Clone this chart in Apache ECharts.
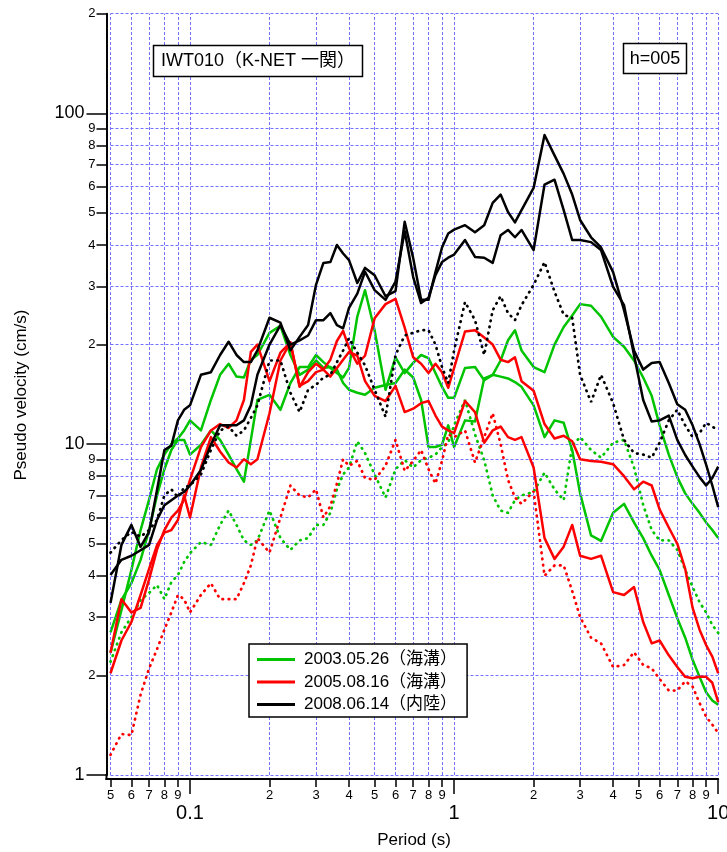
<!DOCTYPE html>
<html><head><meta charset="utf-8">
<script src="https://cdn.jsdelivr.net/npm/echarts@6/dist/echarts.min.js"></script>
<style>html,body{margin:0;padding:0;background:#fff}#c{width:727px;height:852px}</style>
</head><body><div id="c"></div><script>
const periods = [0.05,0.055,0.06,0.065,0.07,0.075,0.08,0.085,0.09,0.095,0.1,0.11,0.12,0.13,0.14,0.15,0.16,0.17,0.18,0.2,0.22,0.24,0.26,0.28,0.3,0.32,0.34,0.36,0.38,0.4,0.43,0.46,0.5,0.55,0.6,0.65,0.7,0.75,0.8,0.85,0.9,0.95,1.0,1.1,1.2,1.3,1.4,1.5,1.6,1.7,1.8,2.0,2.2,2.4,2.6,2.8,3.0,3.3,3.6,4.0,4.4,4.8,5.2,5.6,6.0,6.5,7.0,7.5,8.0,8.5,9.0,9.5,10];

const green1 = [2.7,3.38,3.8,4.47,5.5,7.0,8.4,9.6,10.3,10.3,9.3,9.96,11.0,10.3,9.3,8.4,7.7,10.3,13.6,14.1,12.7,15.3,17.1,17.1,18.6,17.7,17.0,16.4,15.9,17.0,24.3,29.2,22.1,14.6,18.3,16.4,17.6,18.6,18.2,16.4,14.9,13.8,13.8,17.0,17.1,15.6,16.2,17.9,20.6,22.1,19.2,17.1,16.5,20,22.6,24.5,26.5,26.2,24.3,21.1,19.7,17.9,15.9,14.0,11.4,9.3,7.95,7.1,6.6,6.2,5.8,5.5,5.2];
const green2 = [2.34,3.15,4.17,5.5,6.8,8.4,9.3,10.0,10.4,11.0,11.8,11.0,13.6,16.2,17.5,16.0,15.9,18.0,18.6,21.7,22.8,18.6,16.2,16.8,17.9,17.0,17.1,16.8,15.3,14.6,14.3,14.1,14.8,15.1,15.3,16.8,15.9,13.6,9.8,9.8,9.96,11.4,9.8,11.8,11.7,15.8,16.2,16.0,15.8,15.4,14.9,13.1,10.5,11.8,11.6,9.6,7.1,5.3,5.1,6.2,6.6,5.8,5.2,4.6,4.17,3.5,2.98,2.6,2.23,1.98,1.78,1.68,1.63];
const greenDot = [2.2,2.7,3.0,3.38,3.55,3.75,3.4,3.83,4.02,4.4,4.68,5.06,4.96,5.7,6.3,5.7,5.12,4.96,5.12,6.3,5.2,4.79,5.12,5.2,5.7,5.7,6.2,7.3,8.1,8.5,10.2,9.4,8.1,6.9,8.4,8.95,8.5,8.95,9.1,9.3,9.8,10.1,11.4,13.6,10.7,8.95,7.0,6.3,6.2,6.77,7.0,7.17,8.2,7.3,6.77,9.9,10.5,9.6,9.1,10.1,10.3,8.5,6.55,5.5,5.12,5.12,4.79,4.17,3.7,3.33,3.1,2.84,2.69];
const red1 = [2.34,3.4,3.1,3.2,3.9,4.8,5.5,6.0,6.3,6.8,7.8,9.8,11.0,11.5,11.2,11.8,13.6,19.0,20.0,15.5,18.9,20.3,14.9,16.5,17.5,16.8,18,20.5,22,19.5,17.5,18.5,24,26.5,27.5,22.5,18.3,17.5,16.4,17.5,16.5,14.8,17,21.9,22.1,21,20,18,17.7,18.3,15.5,14.5,11.5,10.4,10.6,10.2,9.0,8.9,8.85,8.7,8.0,7.3,7.7,7.5,6.35,5.6,5.0,4.2,3.2,2.75,2.47,2.28,2.03];
const red2 = [2.03,2.55,2.9,3.5,4.2,4.95,5.4,5.5,5.9,7.0,6.0,8.5,10.5,9.5,8.8,8.5,9.0,8.7,9.0,12.4,17.9,20.3,15.0,15.5,16.5,16.8,16,17,18,19,18.5,15.5,14.0,13.5,15,12.5,12.8,13.3,13.5,12.2,11.3,11.0,10.8,13.5,12.5,10.1,11.0,11.3,10.5,10.3,10.5,8.5,5.2,4.5,4.9,5.7,4.6,4.5,4.6,3.57,3.5,3.7,2.9,2.5,2.55,2.3,2.12,1.98,1.96,1.98,1.98,1.9,1.66];
const redDot = [1.15,1.33,1.32,1.75,2.1,2.4,2.75,3.1,3.5,3.4,3.1,3.5,3.8,3.4,3.4,3.4,3.8,4.3,5.2,4.7,6.0,7.5,7.0,6.9,7.3,6.0,6.5,7.6,9.0,8.6,8.9,7.9,7.8,8.6,10.3,8.3,8.9,9.6,8.4,7.6,8.9,10.7,10.5,11.0,8.8,10.5,12.4,10.0,7.8,6.9,6.6,7.2,4.0,4.3,4.3,3.6,3.0,2.6,2.5,2.12,2.15,2.35,2.15,2.1,1.95,1.8,1.8,1.92,1.85,1.65,1.5,1.42,1.34];
const black1 = [3.31,4.96,5.70,4.89,5.43,7.27,9.6,9.9,11.8,12.7,13.1,16.2,16.5,18.6,20.4,18.6,17.7,17.7,19.2,24.1,23.3,19.2,21.1,22.9,30.3,35.3,35.5,40.0,37.7,36,30.7,34.1,32.4,28,29,47,36.5,27.3,27.3,33.1,39.3,43.3,44.5,45.9,43.7,45.9,53.6,56.8,50.3,46.8,51.0,59.5,86,74.6,65.6,56.8,47.6,42.2,39.3,33.1,25.4,19.2,16.8,17.6,17.7,15.3,13.2,12.7,11.4,10.0,8.67,7.5,6.45];
const black2 = [4.02,4.47,4.6,4.78,4.96,5.9,6.54,6.77,7.0,7.17,7.5,8.35,9.96,11.4,11.4,11.4,11.8,13.1,16.2,20,22.9,20,20.6,21.3,23.7,23.7,24.9,22.9,22.4,25.8,28.5,33.2,29.2,27.3,31,44,32,26.7,27.7,32.4,35.5,36.6,37.4,41.4,36.8,36.6,35.3,42.8,44.4,42.2,44.4,38.6,60.9,63,51,41.4,41.4,40.8,38.6,29.9,26.3,18.6,13.6,11.7,11.8,12.2,10.3,9.27,8.55,7.95,7.5,7.9,8.55];
const blackDot = [4.7,5.13,5.43,5.25,5.5,5.9,7.0,7.3,6.9,7.4,7.5,8.1,9.6,11.0,11.3,10.6,11.0,12.0,13.1,17.9,17.9,14.3,12.5,14.6,15.1,15.9,16.2,17.7,19.2,20.9,18.9,17.3,14.6,12.1,18.6,21.3,21.7,22.1,22.1,20,17.1,15.3,19.2,26.9,23.7,18.6,25.4,28,24.9,23.7,26.3,30.3,35.5,28.9,24.6,24.1,16.2,13.4,16.2,13.3,10.3,9.4,9.3,9.1,10.1,11.8,12.7,11.4,10.5,10.8,11.6,11.3,11.0];

const legendNames = ['2003.05.26（海溝）','2005.08.16（海溝）','2008.06.14（内陸）'];
const stationTitle = 'IWT010（K-NET 一関）';
const dampingLabel = 'h=005';
const xTitle = 'Period (s)';
const yTitle = 'Pseudo velocity (cm/s)';

const xMinorVals = [0.05,0.06,0.07,0.08,0.09,0.2,0.3,0.4,0.5,0.6,0.7,0.8,0.9,2,3,4,5,6,7,8,9];
const xMinorLabels = ['5','6','7','8','9','2','3','4','5','6','7','8','9','2','3','4','5','6','7','8','9'];
const xMajorVals = [0.1,1,10];
const xMajorLabels = ['0.1','1','10'];
const yMinorVals = [2,3,4,5,6,7,8,9,20,30,40,50,60,70,80,90,200];
const yMinorLabels = ['2','3','4','5','6','7','8','9','2','3','4','5','6','7','8','9','2'];
const yMajorVals = [1,10,100];
const yMajorLabels = ['1','10','100'];

const FONT = '"Liberation Sans", Arial, "Noto Sans CJK JP", sans-serif';
const GREEN = '#00c400', RED = '#ff0000', BLACK = '#000000';
const L = Math.log10;

function lookup(v, vals, labels) {
  for (let i = 0; i < vals.length; i++) if (Math.abs(L(vals[i]) - v) < 1e-6) return labels[i];
  return '';
}
function pts(vals) { return periods.map((p, i) => [p, vals[i]]); }

const seriesDefs = [
  { name: legendNames[0], vals: green1, color: GREEN, dot: false },
  { name: legendNames[0], vals: green2, color: GREEN, dot: false },
  { name: legendNames[0], vals: greenDot, color: GREEN, dot: true },
  { name: legendNames[1], vals: red1, color: RED, dot: false },
  { name: legendNames[1], vals: red2, color: RED, dot: false },
  { name: legendNames[1], vals: redDot, color: RED, dot: true },
  { name: legendNames[2], vals: black1, color: BLACK, dot: false },
  { name: legendNames[2], vals: black2, color: BLACK, dot: false },
  { name: legendNames[2], vals: blackDot, color: BLACK, dot: true }
];

const gridLineStyle = { color: '#7272ff', type: [3, 2], width: 1 };
const gridSeries = {
  type: 'line', data: [], xAxisIndex: 0, yAxisIndex: 0, z: 1, silent: true, symbol: 'none',
  markLine: {
    silent: true, symbol: ['none', 'none'], label: { show: false }, animation: false,
    lineStyle: gridLineStyle, emphasis: { disabled: true },
    data: [
      ...xMinorVals.concat(xMajorVals).map(v => ({ xAxis: v })),
      ...yMinorVals.concat(yMajorVals).map(v => ({ yAxis: v }))
    ]
  }
};

const dataSeries = seriesDefs.map((d, k) => ({
  type: 'line', name: d.name, data: pts(d.vals), xAxisIndex: 0, yAxisIndex: 0,
  symbol: 'none', showSymbol: false, z: 3 + k, color: d.color,
  lineStyle: d.dot ? { color: d.color, width: 2.7, type: [0.6, 5.6], cap: 'round' } : { color: d.color, width: 2.5, join: 'round' },
  emphasis: { disabled: true }
}));

function tickAxis(dir, vals, labels, tickLen, margin, fontSize, showLine) {
  const isX = dir === 'x';
  const logVals = vals.map(L);
  return {
    type: 'value', gridIndex: 0,
    min: isX ? L(0.05) : 0, max: isX ? 1 : L(200),
    position: isX ? 'bottom' : 'left', offset: 4,
    axisLine: { show: showLine, onZero: false, lineStyle: { color: '#000', width: 2 } },
    axisTick: { show: true, inside: false, length: tickLen, customValues: logVals, lineStyle: { color: '#000', width: 1.5 } },
    axisLabel: { show: true, margin: margin, fontSize: fontSize, color: '#000', fontFamily: FONT,
      customValues: logVals, showMinLabel: true, showMaxLabel: true,
      formatter: v => lookup(v, vals, labels) },
    splitLine: { show: false }, minorTick: { show: false }, splitArea: { show: false }
  };
}

const option = {
  animation: false,
  backgroundColor: '#fff',
  grid: { left: 110.5, right: 8.8, top: 13.7, bottom: 77, containLabel: false, outerBoundsMode: 'none' },
  xAxis: [
    { type: 'log', logBase: 10, min: 0.05, max: 10, show: false, gridIndex: 0 },
    tickAxis('x', xMinorVals, xMinorLabels, 8, 10, 13, true),
    tickAxis('x', xMajorVals, xMajorLabels, 15, 24, 20, false)
  ],
  yAxis: [
    { type: 'log', logBase: 10, min: 1, max: 200, show: false, gridIndex: 0 },
    tickAxis('y', yMinorVals, yMinorLabels, 10, 11, 13, true),
    tickAxis('y', yMajorVals, yMajorLabels, 20, 22, 18, false)
  ],
  legend: {
    data: legendNames, orient: 'vertical', left: 249, top: 644,
    backgroundColor: '#fff', borderColor: '#000', borderWidth: 1.5, borderRadius: 0,
    padding: [7, 10, 4, 8], itemGap: 5.5, itemWidth: 38, itemHeight: 3, icon: 'rect',
    textStyle: { fontSize: 17, color: '#000', fontFamily: FONT, padding: [0, 0, 0, 4] },
    selectedMode: false, z: 20
  },
  graphic: [
    { type: 'rect', z: 30, shape: { x: 153.5, y: 45.5, width: 209, height: 31 }, style: { fill: '#fff', stroke: '#000', lineWidth: 1.5 } },
    { type: 'text', z: 31, x: 258, y: 61.5, style: { text: stationTitle, font: '18px ' + FONT, fill: '#000', align: 'center', verticalAlign: 'middle' } },
    { type: 'rect', z: 30, shape: { x: 623.5, y: 43.5, width: 63, height: 30 }, style: { fill: '#fff', stroke: '#000', lineWidth: 1.5 } },
    { type: 'text', z: 31, x: 655, y: 59, style: { text: dampingLabel, font: '18px ' + FONT, fill: '#000', align: 'center', verticalAlign: 'middle' } },
    { type: 'text', z: 31, x: 414, y: 840, style: { text: xTitle, font: '17px ' + FONT, fill: '#000', align: 'center', verticalAlign: 'middle' } },
    { type: 'text', z: 31, x: 21, y: 395, rotation: Math.PI / 2, style: { text: yTitle, font: '17px ' + FONT, fill: '#000', align: 'center', verticalAlign: 'middle' } },
    { type: 'line', z: 31, shape: { x1: 105.5, y1: 779, x2: 111, y2: 779 }, style: { stroke: '#000', lineWidth: 2 } },
    { type: 'line', z: 31, shape: { x1: 106.5, y1: 774, x2: 106.5, y2: 780 }, style: { stroke: '#000', lineWidth: 2 } }
  ],
  series: [gridSeries, ...dataSeries]
};

const chart = echarts.init(document.getElementById('c'), null, { renderer: 'canvas' });
chart.setOption(option);
</script></body></html>
